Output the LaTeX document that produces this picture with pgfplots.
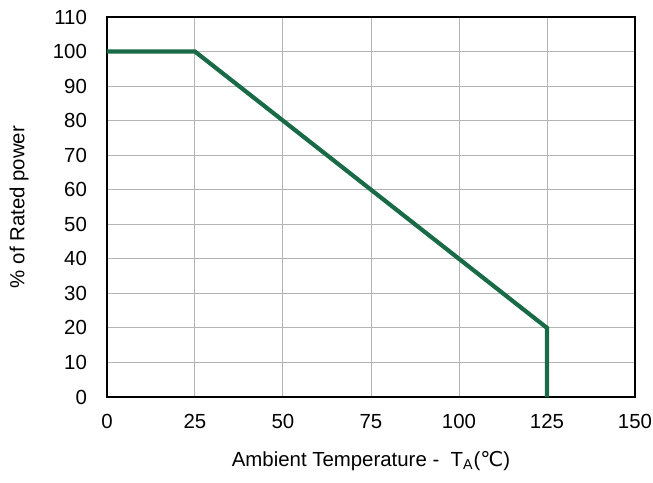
\documentclass[border=0pt]{standalone}
\usepackage{fontspec}
\setmainfont{Liberation Sans}
\newfontfamily\symfont{DejaVu Sans}
\usepackage{pgfplots}
\pgfplotsset{compat=1.18}
\usetikzlibrary{calc}
\definecolor{derate}{RGB}{24,107,70}
\definecolor{gridgray}{RGB}{180,180,180}

\begin{document}
\begin{tikzpicture}
    \begin{axis}[
        scale only axis,
        width=264pt,
        height=190pt,
        xmin=0, xmax=150,
        ymin=0, ymax=110,
        xtick={0,25,...,150},
        ytick={0,10,...,110},
        major tick length=0pt,
        grid=major,
        major grid style={gridgray, line width=0.5pt},
        axis line style={black, line width=0.6pt},
        /pgf/number format/assume math mode=true,
        tick label style={font=\fontsize{10.2}{12}\selectfont},
        label style={font=\fontsize{10.2}{12}\selectfont},
        xticklabel style={yshift=-5pt},
        yticklabel style={xshift=-6.5pt},
        xlabel={Ambient Temperature -\ \ T\textsubscript{A}({\symfont ℃})},
        ylabel={\% of Rated power},
        xlabel style={at={(axis description cs:0.5,0)}, anchor=center, yshift=-32pt},
        ylabel style={at={(axis description cs:0,0.5)}, anchor=center, yshift=44pt},
    ]
        \addplot[derate, line width=2.1pt, mark=none] coordinates {
            (0,100)
            (25,100)
            (125,20)
            (125,0)
        };
    \end{axis}
    \pgfresetboundingbox
    \path ($(current axis.south west)+(-53.5pt,-42.5pt)$) rectangle ($(current axis.north east)+(9pt,8.5pt)$);
\end{tikzpicture}
\end{document}
